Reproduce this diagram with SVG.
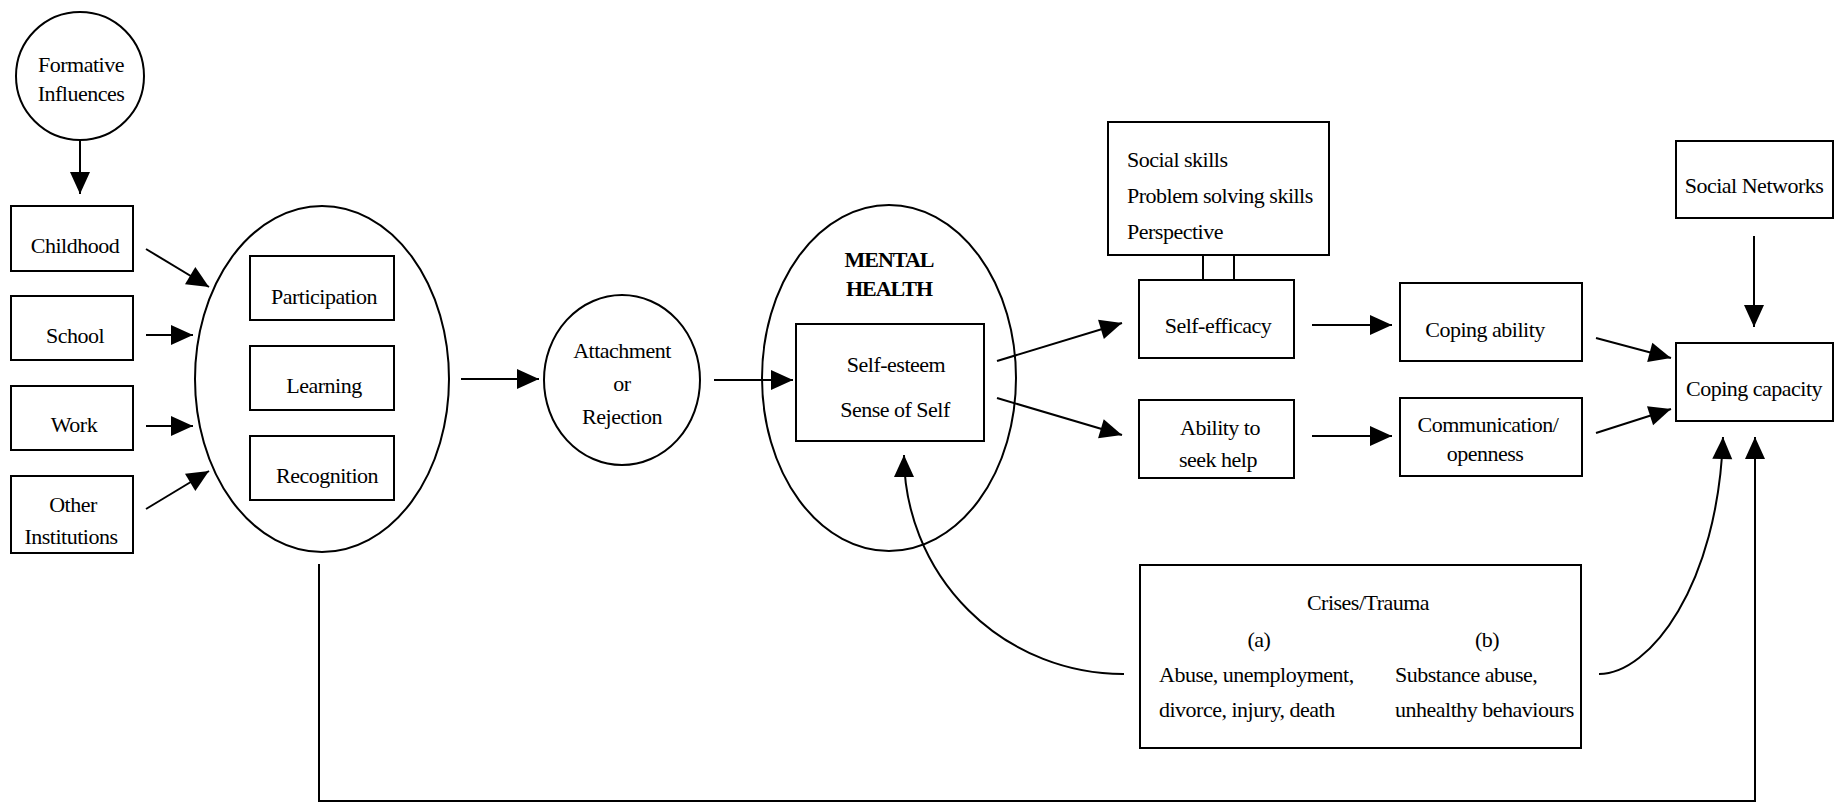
<svg xmlns="http://www.w3.org/2000/svg" width="1835" height="803" viewBox="0 0 1835 803">
  <style>
    .shape { fill: #fff; stroke: #000; stroke-width: 2; }
    .t { font-family: "Liberation Serif", "Times New Roman", serif; font-size: 22px; letter-spacing: -0.5px; fill: #000; }
    .c { text-anchor: middle; }
    .b { font-weight: bold; letter-spacing: -1px; }
    .link { fill: none; stroke: #000; stroke-width: 2; }
  </style>
  <defs>
    <marker id="ah" markerWidth="22" markerHeight="20" refX="22" refY="10" orient="auto" markerUnits="userSpaceOnUse" overflow="visible">
      <path d="M0,0 L22,10 L0,20 z" fill="#000"/>
    </marker>
  </defs>
  <rect width="1835" height="803" fill="#fff"/>

  <!-- nodes -->
  <g id="formative">
    <ellipse class="shape" cx="80" cy="76" rx="64" ry="64"/>
    <text class="t c" x="81" y="72">Formative</text>
    <text class="t c" x="81" y="101">Influences</text>
  </g>
  <g id="childhood">
    <rect class="shape" x="11" y="206" width="122" height="65"/>
    <text class="t c" x="75" y="253">Childhood</text>
  </g>
  <g id="school">
    <rect class="shape" x="11" y="296" width="122" height="64"/>
    <text class="t c" x="75" y="343">School</text>
  </g>
  <g id="work">
    <rect class="shape" x="11" y="386" width="122" height="64"/>
    <text class="t c" x="74" y="432">Work</text>
  </g>
  <g id="other">
    <rect class="shape" x="11" y="476" width="122" height="77"/>
    <text class="t c" x="73" y="512">Other</text>
    <text class="t c" x="71" y="544">Institutions</text>
  </g>

  <g id="influences">
    <ellipse class="shape" cx="322" cy="379" rx="127" ry="173"/>
    <g id="participation">
      <rect class="shape" x="250" y="256" width="144" height="64"/>
      <text class="t c" x="324" y="304">Participation</text>
    </g>
    <g id="learning">
      <rect class="shape" x="250" y="346" width="144" height="64"/>
      <text class="t c" x="324" y="393">Learning</text>
    </g>
    <g id="recognition">
      <rect class="shape" x="250" y="436" width="144" height="64"/>
      <text class="t c" x="327" y="483">Recognition</text>
    </g>
  </g>

  <g id="attachment">
    <ellipse class="shape" cx="622" cy="380" rx="78" ry="85"/>
    <text class="t c" x="622" y="358">Attachment</text>
    <text class="t c" x="622" y="391">or</text>
    <text class="t c" x="622" y="424">Rejection</text>
  </g>

  <g id="mental-health">
    <ellipse class="shape" cx="889" cy="378" rx="127" ry="173"/>
    <text class="t c b" x="889" y="267">MENTAL</text>
    <text class="t c b" x="889" y="296">HEALTH</text>
    <g id="self-esteem">
      <rect class="shape" x="796" y="324" width="188" height="117"/>
      <text class="t c" x="896" y="372">Self-esteem</text>
      <text class="t c" x="895" y="417">Sense of Self</text>
    </g>
  </g>

  <g id="skills">
    <rect class="shape" x="1108" y="122" width="221" height="133"/>
    <text class="t" x="1127" y="167">Social skills</text>
    <text class="t" x="1127" y="203">Problem solving skills</text>
    <text class="t" x="1127" y="239">Perspective</text>
  </g>
  <g id="self-efficacy">
    <rect class="shape" x="1139" y="280" width="155" height="78"/>
    <text class="t c" x="1218" y="333">Self-efficacy</text>
  </g>
  <g id="seek-help">
    <rect class="shape" x="1139" y="400" width="155" height="78"/>
    <text class="t c" x="1220" y="435">Ability to</text>
    <text class="t c" x="1218" y="467">seek help</text>
  </g>
  <g id="coping-ability">
    <rect class="shape" x="1400" y="283" width="182" height="78"/>
    <text class="t c" x="1485" y="337">Coping ability</text>
  </g>
  <g id="communication">
    <rect class="shape" x="1400" y="398" width="182" height="78"/>
    <text class="t c" x="1488" y="432">Communication/</text>
    <text class="t c" x="1485" y="461">openness</text>
  </g>
  <g id="social-networks">
    <rect class="shape" x="1676" y="141" width="157" height="77"/>
    <text class="t c" x="1754" y="193">Social Networks</text>
  </g>
  <g id="coping-capacity">
    <rect class="shape" x="1676" y="343" width="157" height="78"/>
    <text class="t c" x="1754" y="396">Coping capacity</text>
  </g>
  <g id="crises">
    <rect class="shape" x="1140" y="565" width="441" height="183"/>
    <text class="t c" x="1368" y="610">Crises/Trauma</text>
    <text class="t c" x="1259" y="647">(a)</text>
    <text class="t c" x="1487" y="647">(b)</text>
    <text class="t" x="1159" y="682">Abuse, unemployment,</text>
    <text class="t" x="1159" y="717">divorce, injury, death</text>
    <text class="t" x="1395" y="682">Substance abuse,</text>
    <text class="t" x="1395" y="717">unhealthy behaviours</text>
  </g>

  <!-- connectors -->
  <g id="connectors">
    <path class="link" d="M80 140 L80 194" marker-end="url(#ah)"/>
    <path class="link" d="M146 249 L209 287" marker-end="url(#ah)"/>
    <path class="link" d="M146 335 L193 335" marker-end="url(#ah)"/>
    <path class="link" d="M146 426 L193 426" marker-end="url(#ah)"/>
    <path class="link" d="M146 509 L209 471" marker-end="url(#ah)"/>
    <path class="link" d="M461 379 L539 379" marker-end="url(#ah)"/>
    <path class="link" d="M714 380 L793 380" marker-end="url(#ah)"/>
    <path class="link" d="M997 361 L1122 323" marker-end="url(#ah)"/>
    <path class="link" d="M997 398 L1122 435" marker-end="url(#ah)"/>
    <path class="link" d="M1312 325 L1392 325" marker-end="url(#ah)"/>
    <path class="link" d="M1312 436 L1392 436" marker-end="url(#ah)"/>
    <path class="link" d="M1596 338 L1671 358" marker-end="url(#ah)"/>
    <path class="link" d="M1596 433 L1671 409" marker-end="url(#ah)"/>
    <path class="link" d="M1754 236 L1754 327" marker-end="url(#ah)"/>
    <path class="link" d="M1203 255 L1203 280 M1234 255 L1234 280"/>
    <path class="link" d="M1124 674 A219 219 0 0 1 904 455" marker-end="url(#ah)"/>
    <path class="link" d="M1599 674 C1650 674 1718 585 1723 437" marker-end="url(#ah)"/>
    <path class="link" d="M319 564 L319 801 L1755 801 L1755 437" marker-end="url(#ah)"/>
  </g>
</svg>
